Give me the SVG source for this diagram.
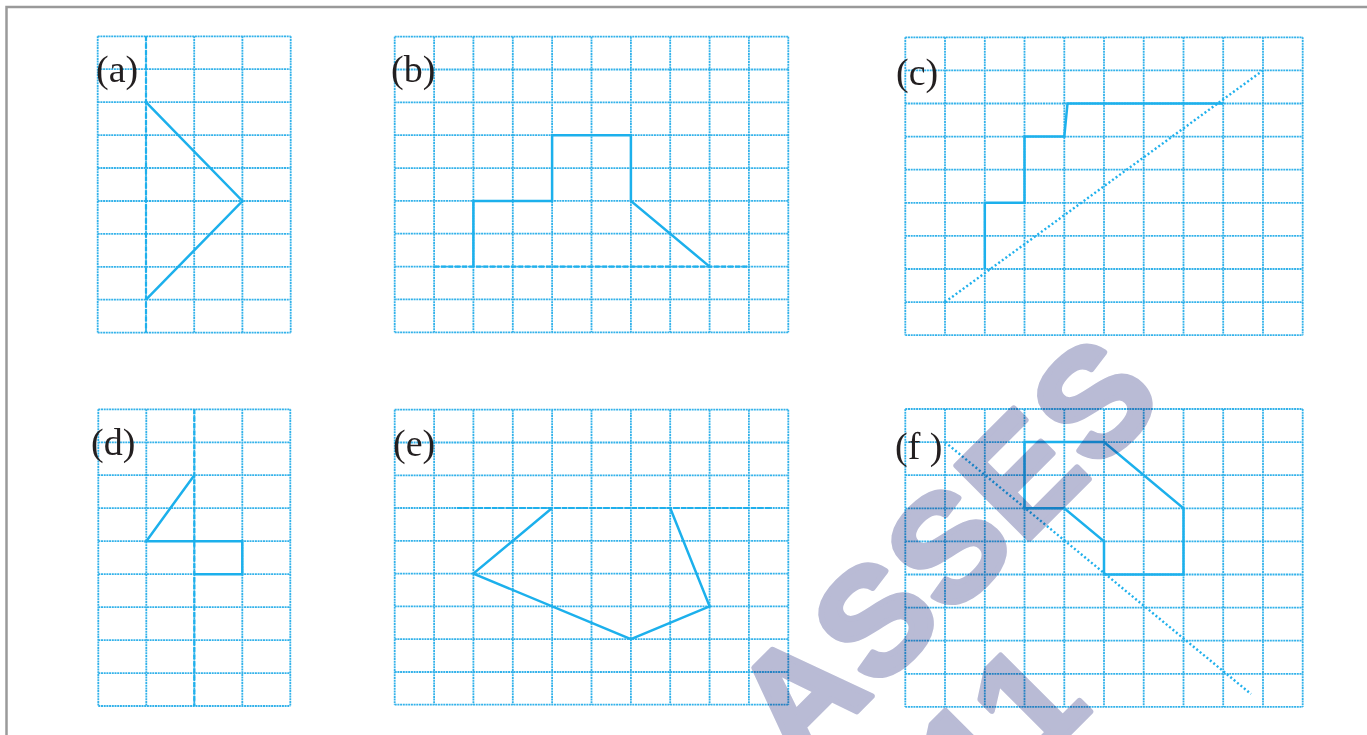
<svg xmlns="http://www.w3.org/2000/svg" width="1367" height="735" viewBox="0 0 1367 735">
<style>
.bg{fill:#ffffff}
.frame{stroke:#9a9a9a;stroke-width:2.5;fill:none}
.grid{stroke:#33b2ea;stroke-width:1.8;stroke-dasharray:2 0.7;fill:none}
.axis{stroke:#1fb0ec;stroke-width:2.2;stroke-dasharray:5 2;fill:none}
.diag{stroke:#1fb0ec;stroke-width:2.4;stroke-dasharray:2 2.4;fill:none}
.shape{stroke:#1cb0ec;stroke-width:2.5;fill:none;stroke-linejoin:miter}
.lbl{font-family:"Liberation Sans",Arial,sans-serif;font-family:"Liberation Serif","Times New Roman",serif;font-size:38px;fill:#231f20}
.wm{font-family:"Liberation Sans",Arial,sans-serif;font-weight:bold;font-size:150px;fill:#b9bbd5;stroke:#b9bbd5;stroke-width:6;stroke-linejoin:round;letter-spacing:3px;mix-blend-mode:multiply}
</style>
<rect class="bg" x="0" y="0" width="1367" height="735"/>
<path class="frame" d="M6.5,735V7H1367"/>

<g id="panel-a">
<path class="grid" d="M97.7,36.3V332.7M146,36.3V332.7M194.2,36.3V332.7M242.4,36.3V332.7M290.7,36.3V332.7M97.7,36.3H290.7M97.7,69.2H290.7M97.7,102.2H290.7M97.7,135.1H290.7M97.7,168H290.7M97.7,201H290.7M97.7,233.9H290.7M97.7,266.8H290.7M97.7,299.7H290.7M97.7,332.7H290.7"/>
<path class="axis" d="M146,36.3V332.7"/>
<path class="shape" d="M146,102.2L242.4,201L146,299.7"/>
<text class="lbl" x="96" y="81.5">(a)</text>
</g>

<g id="panel-b">
<path class="grid" d="M394.7,36.7V332.3M434.1,36.7V332.3M473.4,36.7V332.3M512.8,36.7V332.3M552.1,36.7V332.3M591.5,36.7V332.3M630.9,36.7V332.3M670.2,36.7V332.3M709.6,36.7V332.3M748.9,36.7V332.3M788.3,36.7V332.3M394.7,36.7H788.3M394.7,69.5H788.3M394.7,102.4H788.3M394.7,135.2H788.3M394.7,168.1H788.3M394.7,200.9H788.3M394.7,233.7H788.3M394.7,266.6H788.3M394.7,299.4H788.3M394.7,332.3H788.3"/>
<path class="axis" d="M434.1,266.6H748.9"/>
<path class="shape" d="M473.4,266.6V200.9H552.1V135.2H630.9V200.9L709.6,266.6"/>
<text class="lbl" x="391" y="81.5">(b)</text>
</g>

<g id="panel-c">
<path class="grid" d="M905.3,37.3V335.2M945,37.3V335.2M984.8,37.3V335.2M1024.5,37.3V335.2M1064.3,37.3V335.2M1104,37.3V335.2M1143.7,37.3V335.2M1183.5,37.3V335.2M1223.2,37.3V335.2M1263,37.3V335.2M1302.7,37.3V335.2M905.3,37.3H1302.7M905.3,70.4H1302.7M905.3,103.5H1302.7M905.3,136.6H1302.7M905.3,169.7H1302.7M905.3,202.8H1302.7M905.3,235.9H1302.7M905.3,269H1302.7M905.3,302.1H1302.7M905.3,335.2H1302.7"/>
<path class="diag" d="M945,302.1L1263,70.4"/>
<path class="shape" d="M984.8,269V202.8H1024.5V136.6H1064.3L1067.5,103.5H1223.2"/>
<text class="lbl" x="896" y="84.5">(c)</text>
</g>

<g id="panel-d">
<path class="grid" d="M98.3,409.3V706M146.3,409.3V706M194.3,409.3V706M242.3,409.3V706M290.3,409.3V706M98.3,409.3H290.3M98.3,442.3H290.3M98.3,475.2H290.3M98.3,508.2H290.3M98.3,541.2H290.3M98.3,574.2H290.3M98.3,607.1H290.3M98.3,640.1H290.3M98.3,673.1H290.3M98.3,706H290.3"/>
<path class="axis" d="M194.3,409.3V706"/>
<path class="shape" d="M194.3,475.2L146.3,541.2H242.3V574.2H194.3"/>
<text class="lbl" x="91" y="455">(d)</text>
</g>

<g id="panel-e">
<path class="grid" d="M394.7,409.7V704.7M434.1,409.7V704.7M473.4,409.7V704.7M512.8,409.7V704.7M552.1,409.7V704.7M591.5,409.7V704.7M630.9,409.7V704.7M670.2,409.7V704.7M709.6,409.7V704.7M748.9,409.7V704.7M788.3,409.7V704.7M394.7,409.7H788.3M394.7,442.5H788.3M394.7,475.3H788.3M394.7,508H788.3M394.7,540.8H788.3M394.7,573.6H788.3M394.7,606.4H788.3M394.7,639.2H788.3M394.7,672H788.3M394.7,704.7H788.3"/>
<path class="axis" d="M457,508H771"/>
<path class="shape" d="M552.1,508L473.4,573.6L630.9,639.2L709.6,606.4L670.2,508"/>
<text class="lbl" x="393" y="456">(e)</text>
</g>

<g id="panel-f">
<path class="grid" d="M905.3,409V706.9M945,409V706.9M984.8,409V706.9M1024.5,409V706.9M1064.3,409V706.9M1104,409V706.9M1143.7,409V706.9M1183.5,409V706.9M1223.2,409V706.9M1263,409V706.9M1302.7,409V706.9M905.3,409H1302.7M905.3,442.1H1302.7M905.3,475.2H1302.7M905.3,508.3H1302.7M905.3,541.4H1302.7M905.3,574.5H1302.7M905.3,607.6H1302.7M905.3,640.7H1302.7M905.3,673.8H1302.7M905.3,706.9H1302.7"/>
<path class="diag" d="M945,442.1L1251,694"/>
<path class="shape" d="M1024.5,442.1H1104L1183.5,508.3V574.5H1104V541.4L1064.3,508.3H1024.5Z"/>
<text class="lbl" x="895" y="459">(f )</text>
</g>

<g id="watermark">
<text class="wm" transform="translate(983,585) rotate(-45)" text-anchor="middle">ASSES</text>
<text class="wm" transform="translate(979,823) rotate(-45)">11</text>
</g>
</svg>
